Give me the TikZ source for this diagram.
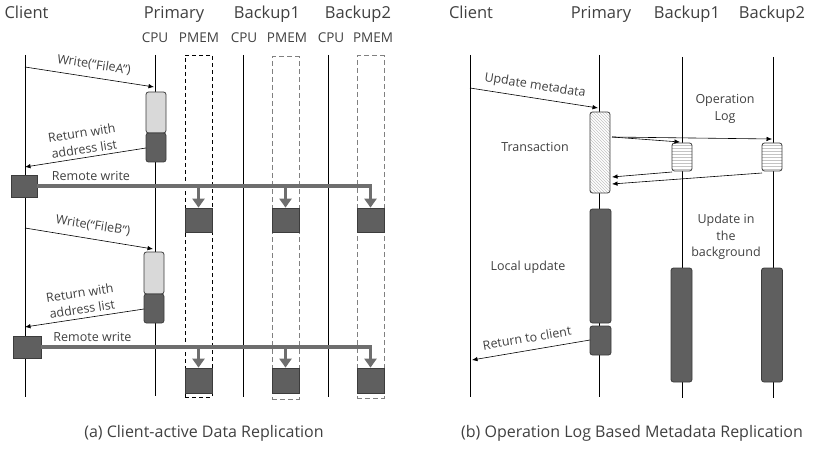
\documentclass[tikz,border=0pt]{standalone}
\usepackage{fontspec}
\setmainfont{Open Sans}
\usetikzlibrary{arrows.meta,patterns}

\definecolor{txtgray}{HTML}{404040}
\definecolor{darkfill}{HTML}{5F5F5F}
\definecolor{boxedge}{HTML}{3C3C3C}
\definecolor{lightfill}{HTML}{D9D9D9}
\definecolor{busgray}{HTML}{6E6E6E}
\definecolor{dashgray}{HTML}{808080}
\definecolor{hatchgray}{HTML}{C4C4C4}

\begin{document}
\begin{tikzpicture}[x=1pt,y=-1pt,
  txt/.style={text=txtgray, inner sep=0pt, font=\fontsize{12.5}{16.5}\selectfont, align=center},
  head/.style={text=txtgray, inner sep=0pt, font=\fontsize{16.5}{18}\selectfont, anchor=base},
  sub/.style={text=txtgray, inner sep=0pt, font=\fontsize{13.5}{15}\selectfont, anchor=base},
  caption/.style={text=txtgray, inner sep=0pt, font=\fontsize{16}{18}\selectfont},
  life/.style={draw=black, line width=0.7pt},
  msg/.style={draw=black, line width=0.6pt, -{Latex[length=5.5pt,width=4.5pt]}},
  actbox/.style={draw=boxedge, line width=0.8pt, rounded corners=2.5pt, minimum width=20pt, inner sep=0pt},
  lightbox/.style={actbox, fill=lightfill},
  darkbox/.style={actbox, fill=darkfill},
  hatchbox/.style={actbox, preaction={fill=white}, pattern=north west lines, pattern color=hatchgray},
  logbox/.style={actbox, preaction={fill=white}, pattern=horizontal lines, pattern color=hatchgray},
  pmemprim/.style={draw=black, dash pattern=on 4pt off 3pt, line width=0.7pt, minimum width=27pt, inner sep=0pt},
  pmemback/.style={draw=dashgray, dash pattern=on 5pt off 3pt, line width=1pt, minimum width=27pt, inner sep=0pt},
  datablk/.style={draw=boxedge, line width=0.7pt, fill=darkfill, minimum width=27pt, minimum height=24pt, inner sep=0pt},
  rwblk/.style={draw=boxedge, line width=0.7pt, fill=darkfill, minimum height=22pt, inner sep=0pt},
  busarrow/.style={draw=busgray, line width=3.2pt, -{Triangle[length=9pt,width=12pt]}}
]
\useasboundingbox (0,0) rectangle (818,449);

% ---------------- (a) client-active data replication ----------------
\node[head] (hcl) at (26.5,19) {Client};
\node[head] (hpr) at (174,19) {Primary};
\node[head] (hb1) at (267,19) {Backup1};
\node[head] (hb2) at (358,19) {Backup2};
\node[sub] (cpu0) at (155,43) {CPU};
\node[sub] (pm0l) at (199,43) {PMEM};
\node[sub] (cpu1) at (244,43) {CPU};
\node[sub] (pm1l) at (287,43) {PMEM};
\node[sub] (cpu2) at (331,43) {CPU};
\node[sub] (pm2l) at (373,43) {PMEM};

% lifelines
\coordinate (aCt) at (25,55);  \coordinate (aCb) at (25,397);
\coordinate (aPt) at (155,55); \coordinate (aPb) at (155,396);
\coordinate (aB1t) at (243,55); \coordinate (aB1b) at (243,397);
\coordinate (aB2t) at (328,55); \coordinate (aB2b) at (328,397);
\draw[life] (aCt) -- (aCb);
\draw[life] (aPt) -- (aPb);
\draw[life] (aB1t) -- (aB1b);
\draw[life] (aB2t) -- (aB2b);

% PMEM regions
\node[pmemprim, minimum height=342pt] (pm0) at (198.5,226) {};
\node[pmemback, minimum height=342pt] (pm1) at (285.5,228) {};
\node[pmemback, minimum height=342pt] (pm2) at (370.5,227) {};

% first write
\node[lightbox, minimum height=41pt] (a1l) at (156,112.5) {};
\node[darkbox, minimum height=29pt] (a1d) at (156,147.5) {};
\coordinate (wAs) at (25,67); \coordinate (wAe) at (154,87);
\draw[msg] (wAs) -- (wAe);
\node[txt, rotate=-8.8] (wAlbl) at (94,65) {Write(“FileA”)};
\coordinate (rAs) at (146,148); \coordinate (rAe) at (25,167);
\draw[msg] (rAs) -- (rAe);
\node[txt, rotate=8.8] (rAlbl) at (83,141) {Return with\\address list};

\node[rwblk, minimum width=26pt] (rw1) at (24,186) {};
\node[anchor=base, txt] (rw1lbl) at (91,180) {Remote write};
\node[datablk] (d1a) at (198.5,220) {};
\node[datablk] (d1b) at (285.5,220) {};
\node[datablk] (d1c) at (370.5,220) {};
\draw[busarrow] (rw1.east) -| (d1c.north);
\draw[busarrow] (rw1.east -| d1a.north) -- (d1a.north);
\draw[busarrow] (rw1.east -| d1b.north) -- (d1b.north);

% second write
\node[lightbox, minimum height=42pt] (a2l) at (154,273) {};
\node[darkbox, minimum height=29pt] (a2d) at (154,308.5) {};
\coordinate (wBs) at (25,228); \coordinate (wBe) at (153,249);
\draw[msg] (wBs) -- (wBe);
\node[txt, rotate=-8.8] (wBlbl) at (93,226) {Write(“FileB”)};
\coordinate (rBs) at (144,309); \coordinate (rBe) at (25,327);
\draw[msg] (rBs) -- (rBe);
\node[txt, rotate=8.8] (rBlbl) at (81,301) {Return with\\address list};

\node[rwblk, minimum width=28pt] (rw2) at (27,347) {};
\node[anchor=base, txt] (rw2lbl) at (92.5,341) {Remote write};
\node[datablk, minimum height=25pt] (d2a) at (198.5,380.5) {};
\node[datablk, minimum height=25pt] (d2b) at (285.5,380.5) {};
\node[datablk, minimum height=25pt] (d2c) at (370.5,380.5) {};
\draw[busarrow] (rw2.east) -| (d2c.north);
\draw[busarrow] (rw2.east -| d2a.north) -- (d2a.north);
\draw[busarrow] (rw2.east -| d2b.north) -- (d2b.north);

\node[caption] (capa) at (204,433) {(a) Client-active Data Replication};

% ---------------- (b) operation log based metadata replication ----------------
\node[head] (hcl2) at (471,19) {Client};
\node[head] (hpr2) at (601,19) {Primary};
\node[head] (hb12) at (687,19) {Backup1};
\node[head] (hb22) at (772,19) {Backup2};

\coordinate (bCt) at (470,55);  \coordinate (bCb) at (470,397);
\coordinate (bPt) at (599,55);  \coordinate (bPb) at (599,397);
\coordinate (bB1t) at (682,57); \coordinate (bB1b) at (682,398);
\coordinate (bB2t) at (773,57); \coordinate (bB2b) at (773,398);
\draw[life] (bCt) -- (bCb);
\draw[life] (bPt) -- (bPb);
\draw[life] (bB1t) -- (bB1b);
\draw[life] (bB2t) -- (bB2b);

\node[hatchbox, minimum height=81pt] (tx) at (600,152.5) {};
\node[logbox, minimum height=28pt] (lg1) at (682,157) {};
\node[logbox, minimum height=28pt] (lg2) at (772,157) {};
\node[darkbox, minimum width=21pt, minimum height=114pt] (lu) at (600.5,266) {};
\node[darkbox, minimum width=21pt, minimum height=29pt] (rt) at (600.5,340.5) {};
\node[darkbox, minimum width=21pt, minimum height=114pt] (bg1) at (681.5,325) {};
\node[darkbox, minimum width=21pt, minimum height=114pt] (bg2) at (772,325) {};

\coordinate (umS) at (470,88); \coordinate (umE) at (598,108);
\draw[msg] (umS) -- (umE);
\node[txt, rotate=-8.8] (umlbl) at (535,86) {Update metadata};

\coordinate (txo) at (612,137);
\coordinate (lg1in) at (680,142);
\coordinate (lg2in) at (772,139);
\draw[msg] (txo) -- (lg1in);
\draw[msg] (txo) -- (lg2in);
\coordinate (lg1out) at (672,172); \coordinate (txi1) at (612,177);
\coordinate (lg2out) at (762,173); \coordinate (txi2) at (612,184);
\draw[msg] (lg1out) -- (txi1);
\draw[msg] (lg2out) -- (txi2);

\coordinate (rtS) at (590,340); \coordinate (rtE) at (472,360);
\draw[msg] (rtS) -- (rtE);
\node[txt, rotate=9.6] (rtlbl) at (527,338) {Return to client};

\node[txt] (oplog) at (725,109) {Operation\\Log};
\node[txt] (txlbl) at (535,147) {Transaction};
\node[txt] (lulbl) at (528,267) {Local update};
\node[txt] (bglbl) at (726,237) {Update in\\the\\background};

\node[caption] (capb) at (632,433) {(b) Operation Log Based Metadata Replication};
\end{tikzpicture}
\end{document}
